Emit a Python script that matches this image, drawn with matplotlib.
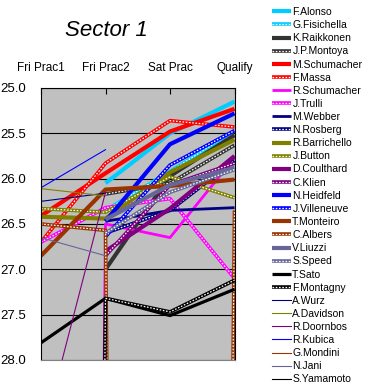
import numpy as np
import matplotlib
matplotlib.use("Agg")
import matplotlib.pyplot as plt
from matplotlib.legend_handler import HandlerTuple

nan = np.nan
sessions = ["Fri Prac1", "Fri Prac2", "Sat Prac", "Qualify"]
drivers = ["F.Alonso", "G.Fisichella", "K.Raikkonen", "J.P.Montoya", "M.Schumacher",
           "F.Massa", "R.Schumacher", "J.Trulli", "M.Webber", "N.Rosberg",
           "R.Barrichello", "J.Button", "D.Coulthard", "C.Klien", "N.Heidfeld",
           "J.Villeneuve", "T.Monteiro", "C.Albers", "V.Liuzzi", "S.Speed",
           "T.Sato", "F.Montagny", "A.Wurz", "A.Davidson", "R.Doornbos",
           "R.Kubica", "G.Mondini", "N.Jani", "S.Yamamoto"]
# sector 1 times (s); 99.9 = no time set, nan = did not run
fri_prac1 = [nan, nan, nan, nan, 26.41, 26.70, 99.9, 26.70, nan, nan,
             26.42, 26.33, nan, nan, nan, nan, 26.85, 26.50, nan, nan,
             27.81, 99.9, 26.25, 26.11, 28.90, 26.10, nan, 26.65, nan]
fri_prac2 = [26.05, 26.35, 27.00, 26.17, 25.94, 25.83, 26.50, 26.32, 26.47, 26.60,
             26.44, 26.37, 26.80, 26.85, 26.47, 26.64, 26.12, 26.57, 26.45, 26.60,
             27.32, 27.32, 26.16, 26.19, 26.15, 25.68, nan, 26.85, nan]
sat_prac = [25.50, 25.92, 25.97, 26.05, 25.48, 25.36, 26.65, 26.22, 26.35, 26.35,
            25.93, 25.98, 26.33, 26.07, 25.62, 25.85, 26.08, 99.9, 26.07, 26.15,
            27.51, 27.47, nan, nan, nan, nan, nan, nan, nan]
qualify = [25.15, 25.47, 25.52, 25.63, 25.23, 25.43, 25.77, 27.10, 26.32, 25.80,
           25.57, 26.21, 25.75, 25.83, 25.28, 25.47, 26.01, 26.35, 25.88, 25.90,
           27.22, 27.12, nan, nan, nan, nan, nan, nan, nan]

team_colors = ["#00CCFF", "#333333", "#FF0000", "#FF00FF", "#000080", "#808000",
               "#800080", "#0000FF", "#993300", "#666699", "#000000"]

fig = plt.figure(figsize=(3.71, 3.85), dpi=100)
ax = fig.add_axes([41 / 371, 25 / 385, 193.5 / 371, 272 / 385])
ax.set_facecolor("#C0C0C0")

x = np.arange(len(sessions))
handles = []
for i, name in enumerate(drivers):
    y = [fri_prac1[i], fri_prac2[i], sat_prac[i], qualify[i]]
    if i < 22:
        c = team_colors[i // 2]
        if i % 2 == 0:
            lw = 2.0 if i in (6, 8) else (2.3 if i == 20 else 3.0)
            ln, = ax.plot(x, y, color=c, lw=lw, solid_capstyle="butt")
            handles.append(ln)
        else:
            base, = ax.plot(x, y, color=c, lw=2.6, solid_capstyle="butt")
            dots, = ax.plot(x, y, color="white", lw=0.9, linestyle=(0, (1.3, 1.3)))
            handles.append((base, dots))
    else:
        c = team_colors[[4, 5, 6, 7, 8, 9, 10][i - 22]]
        ln, = ax.plot(x, y, color=c, lw=0.8)
        handles.append(ln)

ax.set_xlim(0, 3)
ax.set_ylim(28.0, 25.0)
ax.set_yticks(np.arange(25.0, 28.01, 0.5))
ax.set_yticklabels([f"{v:.1f}" for v in np.arange(25.0, 28.01, 0.5)],
                   family="Liberation Sans", fontsize=9.5)
ax.yaxis.grid(True, color="black", lw=0.8)
ax.set_axisbelow(True)
ax.tick_params(axis="y", length=0, pad=11)
ax.xaxis.tick_top()
ax.set_xticks(x)
ax.set_xticklabels(sessions, family="Liberation Sans", fontsize=8.5)
ax.tick_params(axis="x", direction="in", length=4, pad=10)
for s in ["left", "top", "right"]:
    ax.spines[s].set_color("black")
    ax.spines[s].set_linewidth(0.8)
ax.spines["bottom"].set_color("#808080")

fig.text(106 / 371, 1 - 31 / 385, "Sector 1", ha="center", va="center",
         fontsize=16, style="italic", family="Liberation Sans")

fig.legend(handles, drivers, loc="upper left", bbox_to_anchor=(272 / 371, 1 - 7 / 385),
           frameon=False, prop={"family": "Liberation Sans", "size": 7.5},
           handlelength=1.8, handletextpad=0.15, labelspacing=0.3, borderpad=0,
           borderaxespad=0, handler_map={tuple: HandlerTuple(ndivide=1, pad=0)})

fig.savefig("out.png", dpi=100)
